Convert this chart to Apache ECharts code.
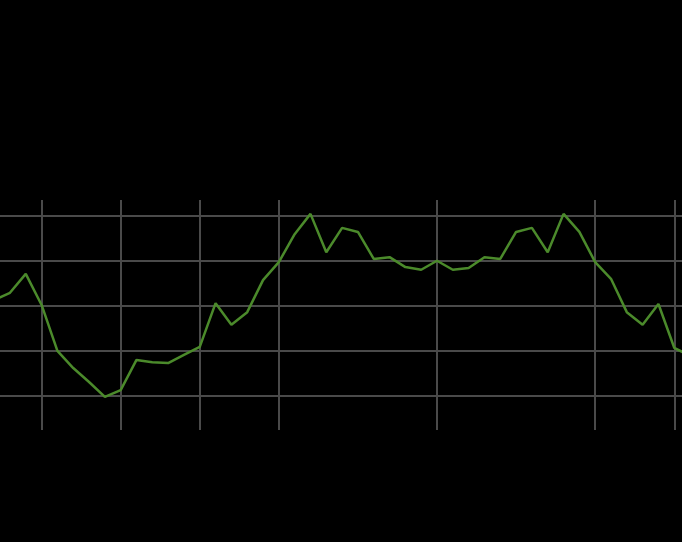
<!DOCTYPE html>
<html>
<head>
<meta charset="utf-8">
<script src="https://cdn.jsdelivr.net/npm/echarts@6/dist/echarts.min.js"></script>
<style>
html,body{margin:0;padding:0;background:#000;}
#chart{width:682px;height:542px;}
</style>
</head>
<body>
<div id="chart"></div>
<script>
// Period index (0..44) and values
const periods = [0,1,2,3,4,5,6,7,8,9,10,11,12,13,14,15,16,17,18,19,20,21,22,23,24,25,26,27,28,29,30,31,32,33,34,35,36,37,38,39,40,41,42,43,44];
const values = [31.3,32.9,37.1,30.2,20.0,16.2,13.1,9.8,11.3,18.0,17.5,17.3,19.1,20.9,30.6,25.8,28.6,35.7,39.7,45.9,50.4,41.9,47.3,46.4,40.4,40.8,38.6,38.0,40.0,38.0,38.4,40.8,40.4,46.4,47.3,41.9,50.4,46.4,39.7,36.0,28.6,25.8,30.4,20.7,18.9];
// Horizontal reference levels (gridlines)
const yLevels = [10,20,30,40,50];
// Periods carrying vertical gridlines
const xLevels = [3,8,13,18,28,38,43];
// Visible window of the axes
const xMin = 0.37, xMax = 43.49;
const yMin = 2.46, yMax = 53.48;

const gridColor = '#4a4a4a';
const chart = echarts.init(document.getElementById('chart'), null, {renderer:'canvas'});
chart.setOption({
  backgroundColor: '#000000',
  animation: false,
  grid: { left: 0, right: 0, top: 200, height: 230, containLabel: false },
  xAxis: {
    type: 'value',
    min: xMin,
    max: xMax,
    axisLine: { show: false },
    axisTick: { show: false },
    axisLabel: { show: false },
    splitLine: { show: false }
  },
  yAxis: {
    type: 'value',
    min: yMin,
    max: yMax,
    axisLine: { show: false },
    axisTick: { show: false },
    axisLabel: { show: false },
    splitLine: { show: false }
  },
  series: [
    {
      type: 'line',
      z: 1,
      data: [],
      silent: true,
      markLine: {
        z: 1,
        silent: true,
        animation: false,
        symbol: ['none','none'],
        label: { show: false },
        lineStyle: { color: gridColor, width: 2, type: 'solid' },
        data: yLevels.map(v => ({ yAxis: v })).concat(xLevels.map(v => ({ xAxis: v })))
      }
    },
    {
      type: 'line',
      z: 3,
      data: periods.map((p, i) => [p, values[i]]),
      symbol: 'none',
      lineStyle: { color: '#4b8a2b', width: 2.5 }
    }
  ]
});
</script>
</body>
</html>
